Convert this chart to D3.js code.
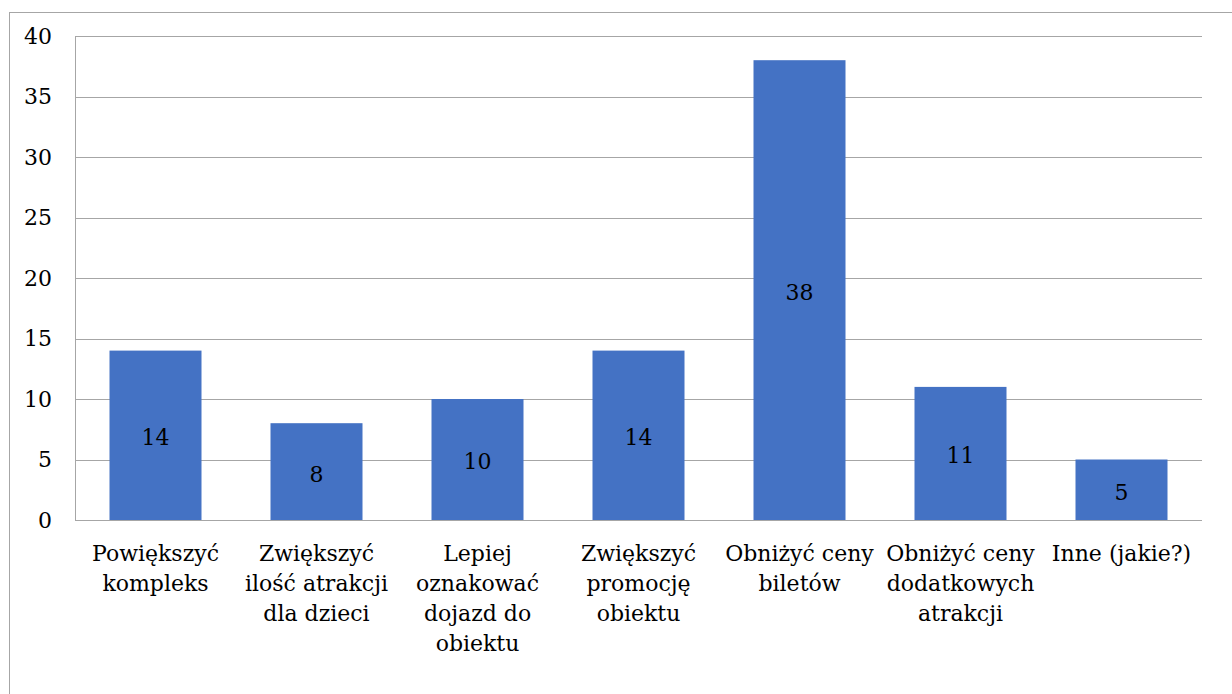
<!DOCTYPE html>
<html>
<head>
<meta charset="utf-8">
<script src="https://cdn.jsdelivr.net/npm/d3@7"></script>
<style>
  body { margin: 0; background: #fff; }
</style>
</head>
<body>
<script>
var categories = [
  "Powiększyć\nkompleks",
  "Zwiększyć\nilość atrakcji\ndla dzieci",
  "Lepiej\noznakować\ndojazd do\nobiektu",
  "Zwiększyć\npromocję\nobiektu",
  "Obniżyć ceny\nbiletów",
  "Obniżyć ceny\ndodatkowych\natrakcji",
  "Inne (jakie?)"
];
var values = [14, 8, 10, 14, 38, 11, 5];
var yTicks = [0, 5, 10, 15, 20, 25, 30, 35, 40];

var font = "DejaVu Serif, serif";
var fontSize = 22;

var margin = {top: 36, right: 30, bottom: 174, left: 75},
  width = 1232 - margin.left - margin.right,
  height = 694 - margin.top - margin.bottom;

var x = d3.scaleBand().range([0, width])
  .domain(categories)
  .paddingInner(3 / 7)
  .paddingOuter(1.5 / 7);

var y = d3.scaleLinear().range([height, 0]).domain([0, 40]);

var svg = d3.select("body").append("svg")
  .attr("width", 1232)
  .attr("height", 694)
  .style("display", "block");

// outer chart border
svg.append("rect")
  .attr("x", 9.5).attr("y", 12.5)
  .attr("width", 1300).attr("height", 800)
  .attr("fill", "none")
  .attr("stroke", "#a6a6a6");

var g = svg.append("g")
  .attr("transform", "translate(" + margin.left + "," + margin.top + ")")
  .attr("font-family", font)
  .attr("font-size", fontSize)
  .attr("fill", "#000");

// gridlines
g.selectAll(".grid")
  .data(yTicks)
  .enter().append("line")
  .attr("x1", 0).attr("x2", width)
  .attr("y1", function (d) { return Math.round(y(d)) + 0.5; })
  .attr("y2", function (d) { return Math.round(y(d)) + 0.5; })
  .attr("stroke", "#a6a6a6");

// left axis line
g.append("line")
  .attr("x1", 0.5).attr("x2", 0.5)
  .attr("y1", 0).attr("y2", height)
  .attr("stroke", "#a6a6a6");

// y tick labels
g.selectAll(".ylab")
  .data(yTicks)
  .enter().append("text")
  .attr("x", -23)
  .attr("y", function (d) { return y(d); })
  .attr("dy", "0.36em")
  .attr("text-anchor", "end")
  .text(function (d) { return d; });

// bars
g.selectAll(".bar")
  .data(values)
  .enter().append("rect")
  .attr("x", function (d, i) { return x(categories[i]); })
  .attr("y", function (d) { return y(d); })
  .attr("width", x.bandwidth())
  .attr("height", function (d) { return height - y(d); })
  .attr("fill", "#4472c4");

// redraw baseline over bars
g.append("line")
  .attr("x1", 0).attr("x2", width)
  .attr("y1", height + 0.5).attr("y2", height + 0.5)
  .attr("stroke", "#a6a6a6");

// data labels
g.selectAll(".vlab")
  .data(values)
  .enter().append("text")
  .attr("x", function (d, i) { return x(categories[i]) + x.bandwidth() / 2; })
  .attr("y", function (d) { return (y(d) + height) / 2 + 2; })
  .attr("dy", "0.36em")
  .attr("text-anchor", "middle")
  .text(function (d) { return d; });

// category labels
var cat = g.selectAll(".clab")
  .data(categories)
  .enter().append("text")
  .attr("text-anchor", "middle")
  .attr("transform", function (d) {
    return "translate(" + (x(d) + x.bandwidth() / 2) + "," + (height + 41) + ")";
  });

cat.selectAll("tspan")
  .data(function (d) { return d.split("\n"); })
  .enter().append("tspan")
  .attr("x", 0)
  .attr("y", function (d, i) { return i * 30; })
  .text(function (d) { return d; });
</script>
</body>
</html>
